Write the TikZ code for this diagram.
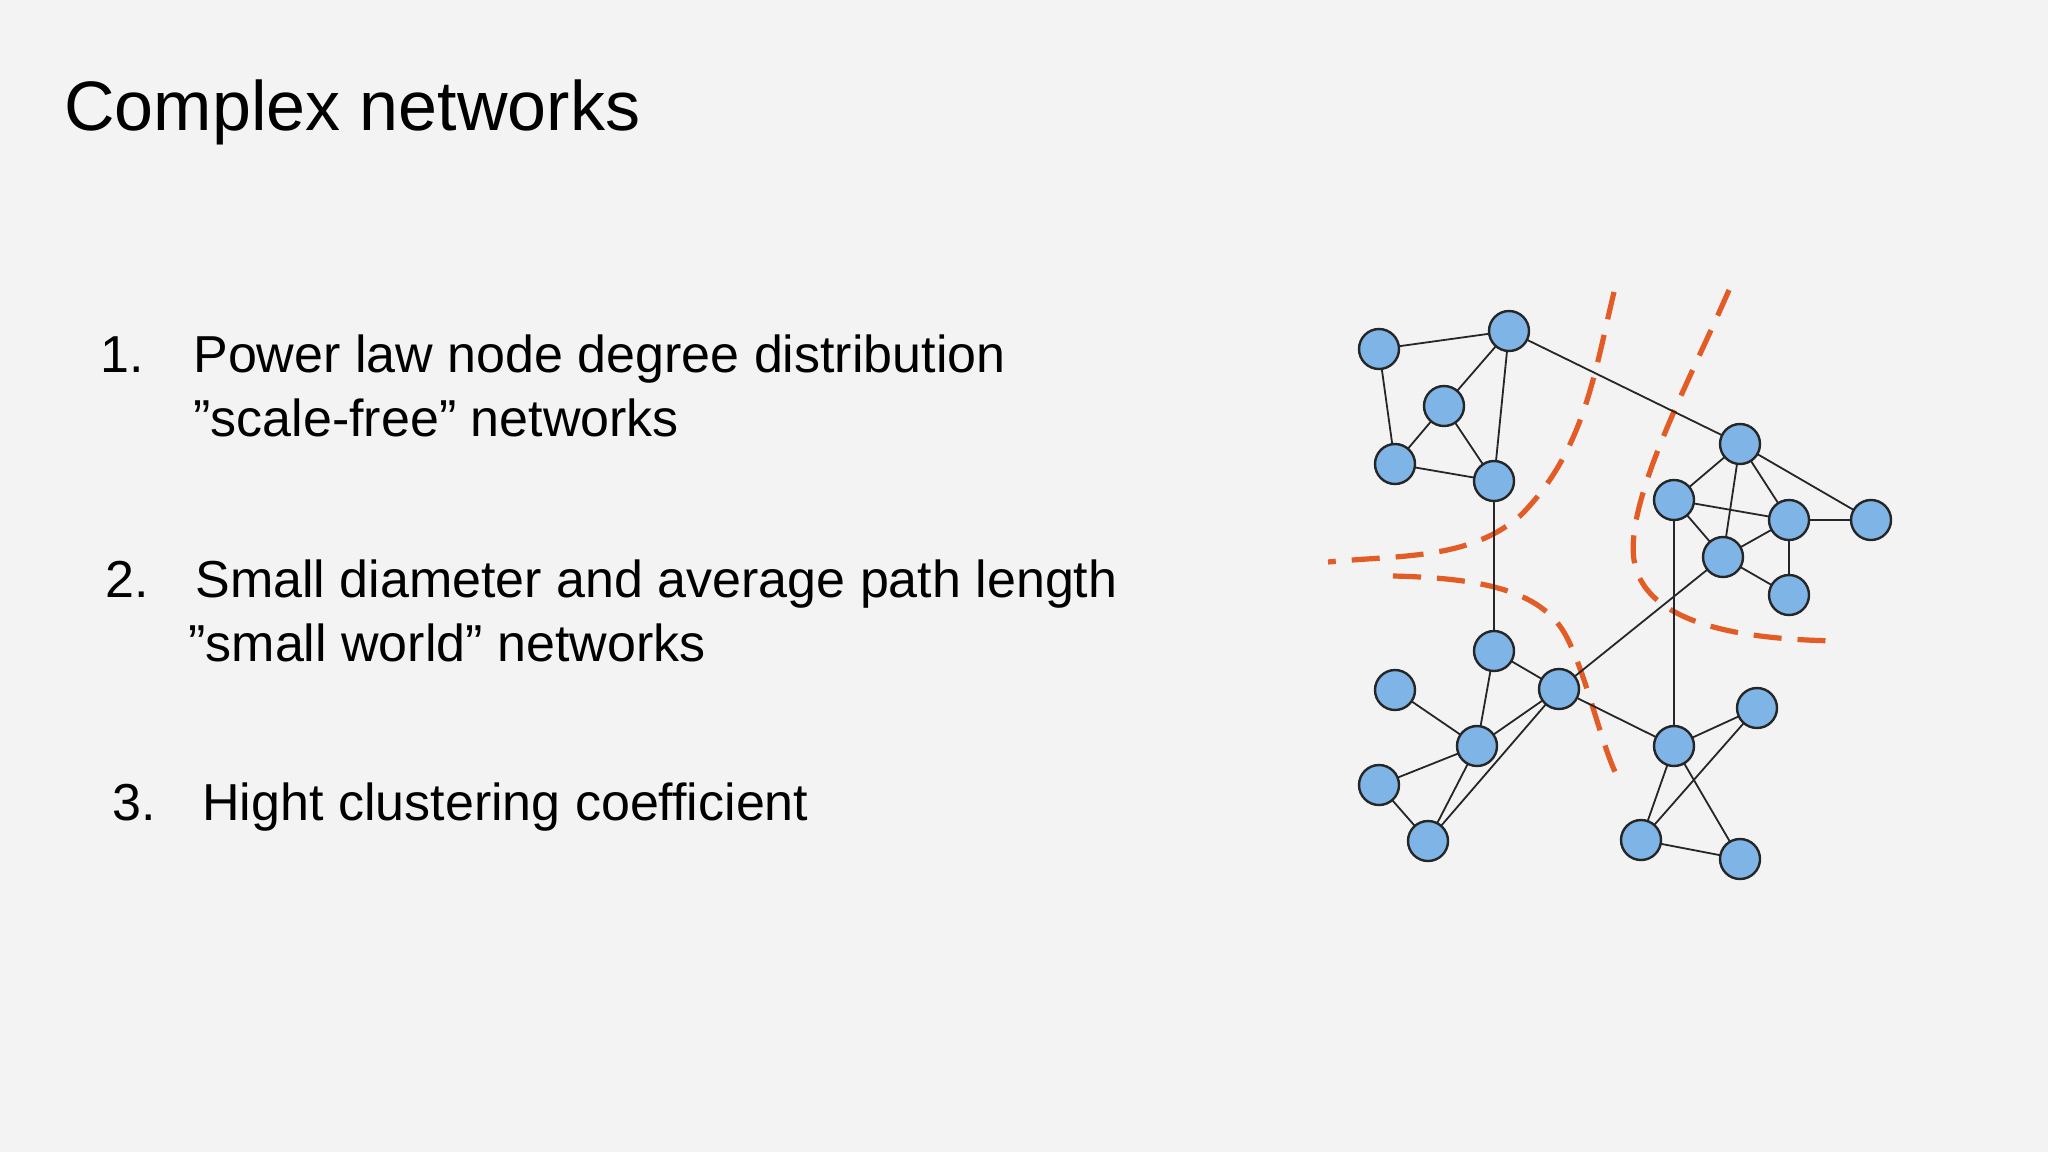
\documentclass[tikz,border=0pt]{standalone}
\usepackage{fontspec}
\setmainfont{Liberation Sans}
\definecolor{bg}{HTML}{F3F3F3}
\definecolor{nodeblue}{HTML}{7EB5E6}
\definecolor{cutorange}{HTML}{E35B25}
\begin{document}
\begin{tikzpicture}[x=0.5pt,y=-0.5pt,
  vtx/.style={circle,draw=black!85,line width=1.2pt,fill=nodeblue,minimum size=20pt,inner sep=0pt},
  edge/.style={line width=0.9pt,black!85},
  cut/.style={cutorange,line width=2.6pt,dash pattern=on 14pt off 8pt},
  title/.style={anchor=base west,font=\fontsize{35}{40}\selectfont,inner sep=0pt},
  item/.style={anchor=base west,font=\fontsize{26}{30}\selectfont,inner sep=0pt}]
\fill[bg] (0,0) rectangle (2048,1152);
\useasboundingbox (0,0) rectangle (2048,1152);
\node[title] (t) at (64,130) {Complex networks};
\node[item] (n1) at (100,372) {1.};
\node[item] (i1) at (193,372) {Power law node degree distribution};
\node[item] (i1b) at (193,436) {”scale-free” networks};
\node[item] (n2) at (105,597) {2.};
\node[item] (i2) at (195,597) {Small diameter and average path length};
\node[item] (i2b) at (188,661) {”small world” networks};
\node[item] (n3) at (112,820) {3.};
\node[item] (i3) at (202,820) {Hight clustering coefficient};
% dashed cuts
\draw[cut] (1614,292) .. controls (1595,370) and (1585,450) .. (1521,515) .. controls (1470,560) and (1400,555) .. (1328,562);
\draw[cut] (1729,290) .. controls (1690,380) and (1625,500) .. (1634,560) .. controls (1645,630) and (1760,640) .. (1841,641);
\draw[cut] (1393,576) .. controls (1480,578) and (1540,590) .. (1565,634) .. controls (1585,670) and (1600,740) .. (1616,774);
% vertices
\foreach \n/\x/\y in {A/1379/349,B/1509/331,C/1444/406,D/1395/464,E/1494/481,F/1740/444,G/1674/500,H/1789/520,I/1871/520,J/1723/557,K/1789/595,L/1494/651,M/1559/689,N/1395/690,O/1477/746,P/1674/746,Q/1757/708,R/1379/785,S/1428/841,T/1641/840,U/1740/859}
  \coordinate (c\n) at (\x,\y);
\foreach \a/\b in {A/B,A/D,B/C,B/E,C/D,C/E,D/E,B/F,E/L,F/G,F/J,F/H,F/I,G/H,G/J,G/P,H/I,H/J,H/K,J/K,J/M,L/M,L/O,M/O,M/S,M/P,N/O,O/R,O/S,R/S,P/Q,P/T,P/U,Q/T,T/U}
  \draw[edge] (c\a) -- (c\b);
\foreach \n in {A,B,C,D,E,F,G,H,I,J,K,L,M,N,O,P,Q,R,S,T,U}
  \node[vtx] (\n) at (c\n) {};
\end{tikzpicture}
\end{document}
